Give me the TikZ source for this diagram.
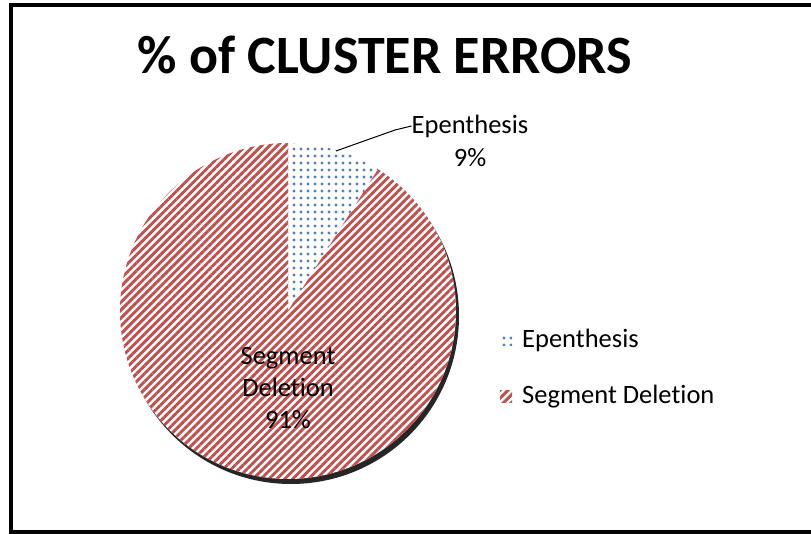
\documentclass[tikz,border=0pt]{standalone}
\usepackage{fontspec}
\setmainfont{Carlito}[RawFeature={-liga;-clig;-calt;-dlig}]
\usetikzlibrary{patterns.meta}
\definecolor{segred}{HTML}{C0504D}
\definecolor{epblue}{HTML}{4F81BD}
\tikzset{
  delfill/.style={pattern={Lines[angle=45,distance=5.6pt,line width=2.9pt]},pattern color=segred},
  epfill/.style={pattern={Dots[distance=7pt,radius=1.6pt]},pattern color=epblue},
  lbl/.style={font=\fontsize{26.5}{32}\selectfont,inner sep=0pt},
  titlefont/.style={font=\fontsize{54}{60}\selectfont\bfseries,inner sep=0pt}
}
\begin{document}
\begin{tikzpicture}[x=1pt,y=1pt]
  \useasboundingbox (0,0) rectangle (811,534);
  \fill[white] (0,0) rectangle (811,534);
  % chart frame (its right side runs past the page)
  \draw[line width=3.5pt] (11,2) rectangle (840,529);
  % title
  \node[titlefont] (title) at (385,479) {\% of CLUSTER ERRORS};
  % pie shadow
  \fill[black!85] (291,218) circle[radius=168];
  % pie slices
  \coordinate (c) at (288,223);
  \fill[white] (c) circle[radius=168];
  \fill[delfill] (c) -- ++(90:168) arc[start angle=90,end angle=417.6,radius=168] -- cycle;
  \fill[epfill] (c) -- ++(57.6:168) arc[start angle=57.6,end angle=90,radius=168] -- cycle;
  % data labels
  \node[lbl,align=center] (seglbl) at (288,146) {Segment\\Deletion\\91\%};
  \node[lbl] (eplbl) at (470,408) {Epenthesis};
  \node[lbl] (eppct) at (470,376) {9\%};
  \coordinate (lstart) at (336,383);
  \coordinate (lbend) at (395,404);
  \draw[line width=1pt] (lstart) -- (lbend) -- (eplbl.west);
  % legend
  \node[epfill,minimum size=12pt,inner sep=0pt] (k1) at (506,194) {};
  \node[lbl,anchor=west] (t1) at (522,194) {Epenthesis};
  \node[delfill,minimum size=12pt,inner sep=0pt] (k2) at (506,137) {};
  \node[lbl,anchor=west] (t2) at (522,137) {Segment Deletion};
\end{tikzpicture}
\end{document}
